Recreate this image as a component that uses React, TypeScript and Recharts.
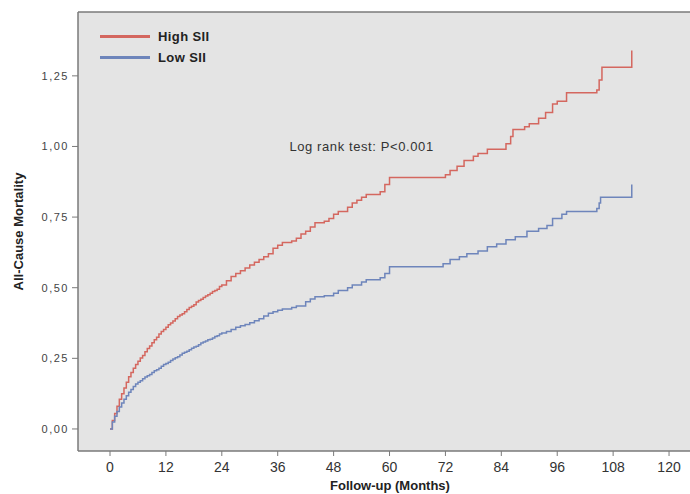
import React from "react";
import {
  LineChart,
  Line,
  XAxis,
  YAxis,
  CartesianGrid,
  ReferenceDot,
  ReferenceLine,
} from "recharts";

// months at which the cumulative curve steps, and the value after the step
const highMonths = [
  0, 0.5, 1, 1.5, 2, 2.5, 3, 3.5, 4, 4.5, 5, 5.5, 6, 6.5, 7, 7.5, 8, 8.5, 9,
  9.5, 10, 10.5, 11, 11.5, 12, 12.5, 13, 13.5, 14, 14.5, 15, 15.5, 16, 16.5,
  17, 17.5, 18, 18.5, 19, 19.5, 20, 20.5, 21, 21.5, 22, 22.5, 23, 23.5, 24, 25,
  26, 27, 28, 29, 30, 31, 32, 33, 34, 35, 36, 37, 39, 40, 41, 42, 43, 44, 46,
  47, 48, 49, 51, 52, 53, 54, 55, 58, 59, 60, 72, 73, 74.5, 76, 78, 79, 81, 85,
  86, 86.5, 89, 90, 92, 93.5, 95, 96, 98, 104.5, 105, 105.6, 112,
];
const highValues = [
  0, 0.03, 0.055, 0.08, 0.105, 0.125, 0.145, 0.165, 0.185, 0.2, 0.215, 0.228,
  0.24, 0.251, 0.26, 0.273, 0.285, 0.294, 0.305, 0.316, 0.325, 0.336, 0.345,
  0.352, 0.36, 0.369, 0.375, 0.382, 0.39, 0.398, 0.403, 0.408, 0.415, 0.423,
  0.43, 0.434, 0.44, 0.449, 0.455, 0.459, 0.465, 0.471, 0.475, 0.48, 0.487,
  0.49, 0.495, 0.504, 0.51, 0.525, 0.54, 0.55, 0.56, 0.57, 0.58, 0.59, 0.6,
  0.61, 0.62, 0.64, 0.65, 0.66, 0.665, 0.675, 0.69, 0.7, 0.715, 0.73, 0.735,
  0.745, 0.76, 0.77, 0.785, 0.8, 0.81, 0.82, 0.83, 0.84, 0.865, 0.89, 0.9,
  0.915, 0.93, 0.95, 0.965, 0.975, 0.99, 1.01, 1.035, 1.06, 1.07, 1.08, 1.1,
  1.12, 1.15, 1.16, 1.19, 1.2, 1.235, 1.28, 1.34,
];

const lowMonths = [
  0, 0.5, 1, 1.5, 2, 2.5, 3, 3.5, 4, 4.5, 5, 5.5, 6, 6.5, 7, 7.5, 8, 8.5, 9,
  9.5, 10, 10.5, 11, 11.5, 12, 12.5, 13, 13.5, 14, 14.5, 15, 15.5, 16, 16.5,
  17, 17.5, 18, 18.5, 19, 19.5, 20, 20.5, 21, 21.5, 22, 22.5, 23, 23.5, 24, 25,
  26, 27, 28, 29, 30, 31, 32, 33, 34, 35, 36, 37, 39, 40, 42, 43, 44, 46, 48,
  49, 51, 52, 54, 55, 58, 59, 60, 71.5, 73, 75, 76.6, 79, 81, 83, 85, 87, 89.5,
  92, 93.8, 95, 97, 98, 104.5, 105, 105.3, 112,
];
const lowValues = [
  0, 0.025, 0.045, 0.062, 0.078, 0.092, 0.105, 0.118, 0.13, 0.14, 0.15, 0.159,
  0.165, 0.171, 0.178, 0.184, 0.188, 0.193, 0.2, 0.206, 0.21, 0.215, 0.222,
  0.228, 0.232, 0.236, 0.242, 0.248, 0.252, 0.256, 0.262, 0.268, 0.272, 0.275,
  0.28, 0.286, 0.29, 0.293, 0.298, 0.304, 0.308, 0.311, 0.316, 0.318, 0.322,
  0.327, 0.33, 0.336, 0.34, 0.345, 0.352, 0.36, 0.365, 0.37, 0.376, 0.383,
  0.39, 0.4, 0.41, 0.415, 0.42, 0.425, 0.43, 0.435, 0.45, 0.46, 0.468, 0.472,
  0.48, 0.49, 0.5, 0.51, 0.52, 0.528, 0.535, 0.55, 0.574, 0.585, 0.6, 0.61,
  0.62, 0.63, 0.645, 0.655, 0.67, 0.68, 0.7, 0.71, 0.72, 0.745, 0.76, 0.77,
  0.78, 0.8, 0.82, 0.865,
];

const xTicks = [0, 12, 24, 36, 48, 60, 72, 84, 96, 108, 120];
const yTicks = [0, 0.25, 0.5, 0.75, 1, 1.25];

const HIGH = "#d4675f";
const LOW = "#6e85bb";
const FRAME = "#7a7a7a";
const Y_MAX = 1.476;

const highData = highMonths.map((m, i) => ({ month: m, value: highValues[i] }));
const lowData = lowMonths.map((m, i) => ({ month: m, value: lowValues[i] }));

const legendItems = [
  { label: "High SII", color: HIGH },
  { label: "Low SII", color: LOW },
];

export default function App() {
  return (
    <div
      style={{
        position: "absolute",
        left: 0,
        top: 0,
        width: 690,
        height: 494,
        background: "#fff",
        fontFamily: "Arial, 'Liberation Sans', sans-serif",
      }}
    >
      <LineChart
        width={690}
        height={494}
        margin={{ top: 12, right: 0, bottom: 0, left: 0 }}
      >
        <CartesianGrid fill="#e4e4e4" horizontal={false} vertical={false} />
        <XAxis
          type="number"
          dataKey="month"
          domain={[-6.87, 124.5]}
          allowDataOverflow
          ticks={xTicks}
          height={43}
          tickSize={5}
          tickMargin={6}
          tick={{ fill: "#333", fontSize: 14 }}
          tickLine={{ stroke: FRAME }}
          axisLine={{ stroke: FRAME, strokeWidth: 1.5 }}
          label={{
            value: "Follow-up (Months)",
            position: "insideBottom",
            offset: 4,
            dx: 6,
            style: { fontWeight: "bold", fontSize: 13, fill: "#222" },
          }}
        />
        <YAxis
          type="number"
          domain={[-0.078, Y_MAX]}
          allowDataOverflow
          ticks={yTicks}
          width={78}
          tickSize={6}
          tickMargin={3}
          tickFormatter={(v: number) => v.toFixed(2).replace(".", ",")}
          tick={{ fill: "#444", fontSize: 11, letterSpacing: 1.5 }}
          tickLine={{ stroke: FRAME }}
          axisLine={{ stroke: FRAME, strokeWidth: 1.5 }}
          label={{
            value: "All-Cause Mortality",
            angle: -90,
            position: "insideLeft",
            offset: 18,
            style: {
              fontWeight: "bold",
              fontSize: 13,
              fill: "#222",
              textAnchor: "middle",
            },
          }}
        />
        <ReferenceLine y={Y_MAX} stroke={FRAME} strokeWidth={1.5} />
        <Line
          data={highData}
          dataKey="value"
          type="stepAfter"
          stroke={HIGH}
          strokeWidth={1.5}
          dot={false}
          isAnimationActive={false}
        />
        <Line
          data={lowData}
          dataKey="value"
          type="stepAfter"
          stroke={LOW}
          strokeWidth={1.5}
          dot={false}
          isAnimationActive={false}
        />
        <ReferenceDot
          x={54}
          y={1.0}
          r={0}
          fill="none"
          stroke="none"
          label={{
            value: "Log rank test: P<0.001",
            position: "center",
            style: { fontSize: 13, fill: "#333", letterSpacing: 0.6 },
          }}
        />
      </LineChart>

      {/* legend, top-left inside the plot */}
      <div style={{ position: "absolute", left: 100, top: 26 }}>
        {legendItems.map((it) => (
          <div
            key={it.label}
            style={{ display: "flex", alignItems: "center", height: 21 }}
          >
            <span
              style={{
                display: "inline-block",
                width: 50,
                height: 3,
                background: it.color,
                marginRight: 8,
              }}
            />
            <span
              style={{
                fontSize: 13,
                fontWeight: "bold",
                color: "#222",
                letterSpacing: 0.4,
              }}
            >
              {it.label}
            </span>
          </div>
        ))}
      </div>
    </div>
  );
}
